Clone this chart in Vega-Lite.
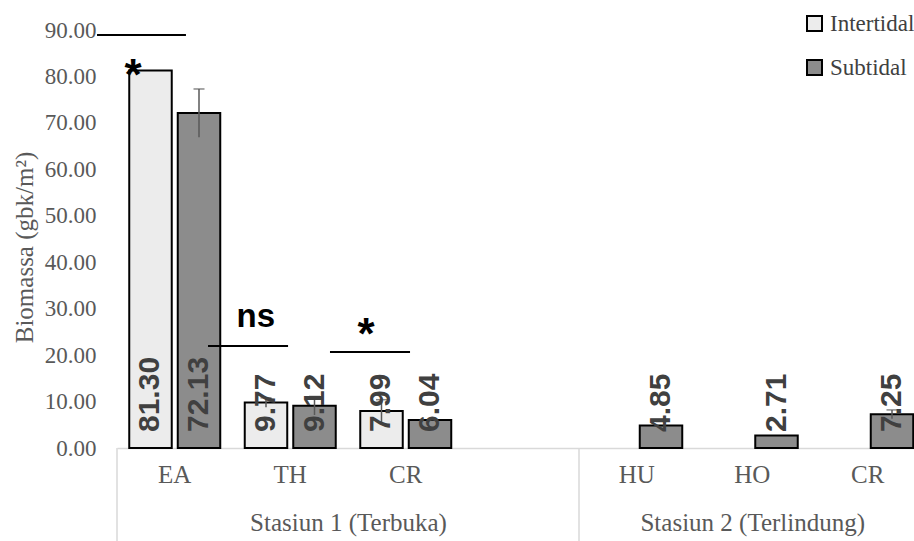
{
  "$schema": "https://vega.github.io/schema/vega-lite/v6.json",
  "autosize": {"type": "none"},
  "width": 797,
  "height": 418,
  "padding": {"left": 117, "top": 30, "right": 0, "bottom": 93},
  "background": "white",
  "config": {"view": {"stroke": null}},
  "datasets": {
    "bars": [
      {"station": "Stasiun 1 (Terbuka)", "key": "S1-EA", "type": "Intertidal", "biomass": 81.30, "lo": null, "hi": null},
      {"station": "Stasiun 1 (Terbuka)", "key": "S1-EA", "type": "Subtidal", "biomass": 72.13, "lo": 66.9, "hi": 77.3},
      {"station": "Stasiun 1 (Terbuka)", "key": "S1-TH", "type": "Intertidal", "biomass": 9.77, "lo": 8.8, "hi": 10.8},
      {"station": "Stasiun 1 (Terbuka)", "key": "S1-TH", "type": "Subtidal", "biomass": 9.12, "lo": 7.1, "hi": 11.1},
      {"station": "Stasiun 1 (Terbuka)", "key": "S1-CR", "type": "Intertidal", "biomass": 7.99, "lo": 5.6, "hi": 10.4},
      {"station": "Stasiun 1 (Terbuka)", "key": "S1-CR", "type": "Subtidal", "biomass": 6.04, "lo": null, "hi": null},
      {"station": "Stasiun 2 (Terlindung)", "key": "S2-HU", "type": "Subtidal", "biomass": 4.85, "lo": null, "hi": null},
      {"station": "Stasiun 2 (Terlindung)", "key": "S2-HO", "type": "Subtidal", "biomass": 2.71, "lo": null, "hi": null},
      {"station": "Stasiun 2 (Terlindung)", "key": "S2-CR", "type": "Subtidal", "biomass": 7.25, "lo": 6.3, "hi": 8.2}
    ],
    "lines": [
      {"x": -0.173, "x2": 0.597, "y": 88.9},
      {"x": 0.788, "x2": 1.481, "y": 21.96},
      {"x": 1.844, "x2": 2.537, "y": 20.67}
    ],
    "marks": [
      {"x": 0.139, "y": 77.1, "label": "*"},
      {"x": 1.202, "y": 26.05, "label": "ns"},
      {"x": 2.156, "y": 21.3, "label": "*"}
    ],
    "separators": [
      {"x": 0},
      {"x": 4}
    ]
  },
  "resolve": {"scale": {"x": "independent"}},
  "layer": [
    {
      "data": {"name": "bars"},
      "mark": {"type": "bar", "stroke": "black", "strokeWidth": 2},
      "encoding": {
        "x": {
          "field": "key", "type": "nominal",
          "scale": {"domain": ["S1-EA", "S1-TH", "S1-CR", "S1-gap", "S2-HU", "S2-HO", "S2-CR"], "range": [0, 808.5], "paddingInner": 0, "paddingOuter": 0},
          "axis": {
            "title": null,
            "labelExpr": "datum.value == 'S1-gap' ? '' : split(datum.value, '-')[1]",
            "labelAngle": 0,
            "ticks": false,
            "labelPadding": 14,
            "labelFont": "Liberation Serif",
            "labelFontSize": 25,
            "labelColor": "#595959",
            "domainColor": "#d9d9d9",
            "domainWidth": 1.5,
            "grid": false
          }
        },
        "xOffset": {"field": "type", "type": "nominal", "scale": {"domain": ["Intertidal", "Subtidal"], "paddingInner": 0.124, "paddingOuter": 0.2526}},
        "y": {
          "field": "biomass", "type": "quantitative",
          "scale": {"domain": [0, 90], "nice": false},
          "axis": {
            "title": "Biomassa (gbk/m²)",
            "values": [0, 10, 20, 30, 40, 50, 60, 70, 80, 90],
            "format": ".2f",
            "grid": false, "ticks": false, "domain": false,
            "labelFont": "Liberation Serif", "labelFontSize": 23, "labelColor": "#595959",
            "labelPadding": 21,
            "titleFont": "Liberation Serif", "titleFontSize": 25, "titleFontWeight": "normal", "titleColor": "#595959",
            "titlePadding": 7, "titleY": 217
          }
        },
        "color": {
          "field": "type", "type": "nominal",
          "scale": {"domain": ["Intertidal", "Subtidal"], "range": ["#ececec", "#8c8c8c"]},
          "legend": {
            "title": null, "orient": "none", "legendX": 686, "legendY": -18,
            "padding": 0, "symbolType": "square", "symbolSize": 225,
            "symbolStrokeColor": "black", "symbolStrokeWidth": 2,
            "labelFont": "Liberation Serif", "labelFontSize": 23, "labelColor": "#404040",
            "labelOffset": 4, "rowPadding": 20
          }
        }
      }
    },
    {
      "data": {"name": "bars"},
      "transform": [{"filter": "datum.hi != null"}],
      "mark": {"type": "rule", "color": "#595959", "strokeWidth": 1.5},
      "encoding": {
        "x": {"field": "key", "type": "nominal", "scale": {"domain": ["S1-EA", "S1-TH", "S1-CR", "S1-gap", "S2-HU", "S2-HO", "S2-CR"], "range": [0, 808.5], "paddingInner": 0, "paddingOuter": 0}, "axis": null},
        "xOffset": {"field": "type", "type": "nominal"},
        "y": {"field": "lo", "type": "quantitative", "scale": {"domain": [0, 90], "nice": false}},
        "y2": {"field": "hi"}
      }
    },
    {
      "data": {"name": "bars"},
      "transform": [{"filter": "datum.hi != null"}],
      "mark": {"type": "tick", "color": "#595959", "thickness": 1.5, "size": 11},
      "encoding": {
        "x": {"field": "key", "type": "nominal", "scale": {"domain": ["S1-EA", "S1-TH", "S1-CR", "S1-gap", "S2-HU", "S2-HO", "S2-CR"], "range": [0, 808.5], "paddingInner": 0, "paddingOuter": 0}, "axis": null},
        "xOffset": {"field": "type", "type": "nominal"},
        "y": {"field": "hi", "type": "quantitative", "scale": {"domain": [0, 90], "nice": false}}
      }
    },
    {
      "data": {"name": "bars"},
      "mark": {"type": "text", "angle": -90, "align": "left", "baseline": "middle", "dx": 16, "font": "Liberation Sans", "fontWeight": "bold", "fontSize": 30, "color": "#404040"},
      "encoding": {
        "x": {"field": "key", "type": "nominal", "scale": {"domain": ["S1-EA", "S1-TH", "S1-CR", "S1-gap", "S2-HU", "S2-HO", "S2-CR"], "range": [0, 808.5], "paddingInner": 0, "paddingOuter": 0}, "axis": null},
        "xOffset": {"field": "type", "type": "nominal"},
        "y": {"datum": 0, "type": "quantitative", "scale": {"domain": [0, 90], "nice": false}},
        "text": {"field": "biomass", "type": "quantitative", "format": ".2f"}
      }
    },
    {
      "data": {"name": "separators"},
      "mark": {"type": "rule", "color": "#d9d9d9", "strokeWidth": 1.5},
      "encoding": {
        "x": {
          "field": "x", "type": "quantitative",
          "scale": {"domain": [0, 7], "range": [0, 808.5], "zero": false, "nice": false},
          "axis": {
            "orient": "bottom",
            "title": null,
            "values": [2, 5.5],
            "labelExpr": "datum.value == 2 ? 'Stasiun 1 (Terbuka)' : 'Stasiun 2 (Terlindung)'",
            "ticks": false, "domain": false, "grid": false,
            "labelOverlap": false, "labelFlush": false, "labelLimit": 500,
            "labelPadding": 62,
            "labelFont": "Liberation Serif", "labelFontSize": 25, "labelColor": "#595959"
          }
        },
        "y": {"datum": 0, "type": "quantitative", "scale": {"domain": [0, 90], "nice": false}},
        "y2": {"datum": -20}
      }
    },
    {
      "data": {"name": "lines"},
      "mark": {"type": "rule", "color": "black", "strokeWidth": 2},
      "encoding": {
        "x": {"field": "x", "type": "quantitative", "scale": {"domain": [0, 7], "range": [0, 808.5], "zero": false, "nice": false}, "axis": null},
        "x2": {"field": "x2"},
        "y": {"field": "y", "type": "quantitative", "scale": {"domain": [0, 90], "nice": false}}
      }
    },
    {
      "data": {"name": "marks"},
      "mark": {"type": "text", "align": "center", "baseline": "alphabetic", "font": "Liberation Sans", "fontWeight": "bold", "color": "black"},
      "encoding": {
        "x": {"field": "x", "type": "quantitative", "scale": {"domain": [0, 7], "range": [0, 808.5], "zero": false, "nice": false}, "axis": null},
        "y": {"field": "y", "type": "quantitative", "scale": {"domain": [0, 90], "nice": false}},
        "text": {"field": "label"},
        "size": {"condition": {"test": "datum.label == '*'", "value": 44}, "value": 33}
      }
    }
  ]
}
